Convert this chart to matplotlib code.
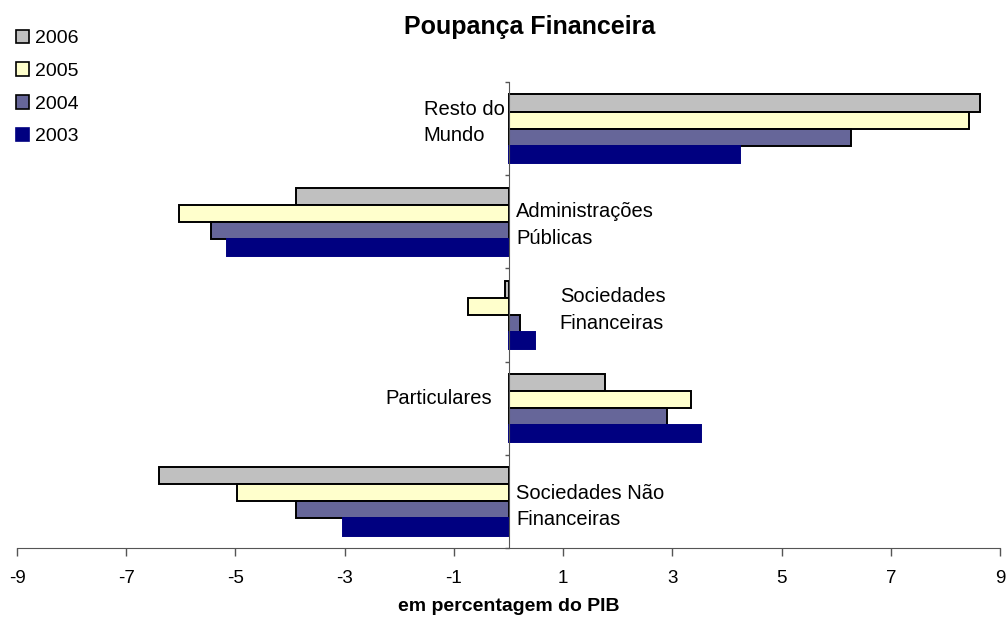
import numpy as np
import matplotlib.pyplot as plt
from matplotlib.patches import Patch

plt.rcParams['font.family'] = ['Liberation Sans', 'DejaVu Sans']

# categories from bottom to top
categories = ["Sociedades Não\nFinanceiras", "Particulares", "Sociedades\nFinanceiras",
              "Administrações\nPúblicas", "Resto do\nMundo"]
years = ["2006", "2005", "2004", "2003"]
v2006 = [-6.40, 1.76, -0.06, -3.89, 8.64]
v2005 = [-4.97, 3.34, -0.74, -6.03, 8.43]
v2004 = [-3.89, 2.90, 0.21, -5.45, 6.27]
v2003 = [-3.03, 3.52, 0.49, -5.16, 4.24]
xticks = [-9, -7, -5, -3, -1, 1, 3, 5, 7, 9]

series = [v2006, v2005, v2004, v2003]
colors = ['#C0C0C0', '#FFFFCC', '#666699', '#000080']
edges = ['black', 'black', 'black', '#000080']

fig = plt.figure(figsize=(10.06, 6.2), dpi=100)
ax = fig.add_axes([17 / 1006, 1 - 548 / 620, 983 / 1006, 466 / 620])

y = np.arange(len(categories))
h = 0.183
for i, (vals, c, ec) in enumerate(zip(series, colors, edges)):
    # 2006 on top, 2003 at the bottom of each group
    offs = (1.5 - i) * h
    ax.barh(y + offs, vals, height=h, color=c, edgecolor=ec, linewidth=1.4, zorder=2)

ax.set_xlim(-9, 9)
ax.set_ylim(-0.5, len(categories) - 0.5)
ax.set_xticks(xticks)
ax.set_xticklabels([str(t) for t in xticks], fontsize=13.5)
ax.tick_params(axis='x', direction='out', length=6, width=1, color='#555555', pad=10)
ax.set_yticks(np.arange(len(categories) + 1) - 0.5)
ax.set_yticklabels([])
ax.tick_params(axis='y', direction='out', length=3, width=1, color='#555555')

for s in ['top', 'right']:
    ax.spines[s].set_visible(False)
ax.spines['left'].set_position(('data', 0))
ax.spines['left'].set_color('#555555')
ax.spines['bottom'].set_color('#555555')
ax.spines['left'].set_zorder(3)

# category labels
lab_pos = {
    "Resto do\nMundo": (-1.55, 4.065, 'left'),
    "Administrações\nPúblicas": (0.14, 2.966, 'left'),
    "Sociedades\nFinanceiras": (0.94, 2.054, 'left'),
    "Particulares": (-0.3, 1.109, 'right'),
    "Sociedades Não\nFinanceiras": (0.14, -0.055, 'left'),
}
for k, (xx, yy, ha) in lab_pos.items():
    ax.text(xx, yy, k, ha=ha, va='center', fontsize=14.5, linespacing=1.5, zorder=4)

ax.set_xlabel("em percentagem do PIB", fontsize=14, fontweight='bold', labelpad=8)

fig.text(530 / 1006, 1 - 27 / 620, "Poupança Financeira", ha='center', va='center',
         fontsize=18, fontweight='bold')

handles = [Patch(facecolor=c, edgecolor=ec, linewidth=1.2) for c, ec in zip(colors, edges)]
fig.legend(handles, years, loc='upper left', bbox_to_anchor=(8 / 1006, 1 - 22 / 620),
           frameon=False, fontsize=14, handlelength=0.7, handleheight=0.7,
           handletextpad=0.3, labelspacing=0.77, borderaxespad=0)

fig.savefig('out.png', dpi=100)
